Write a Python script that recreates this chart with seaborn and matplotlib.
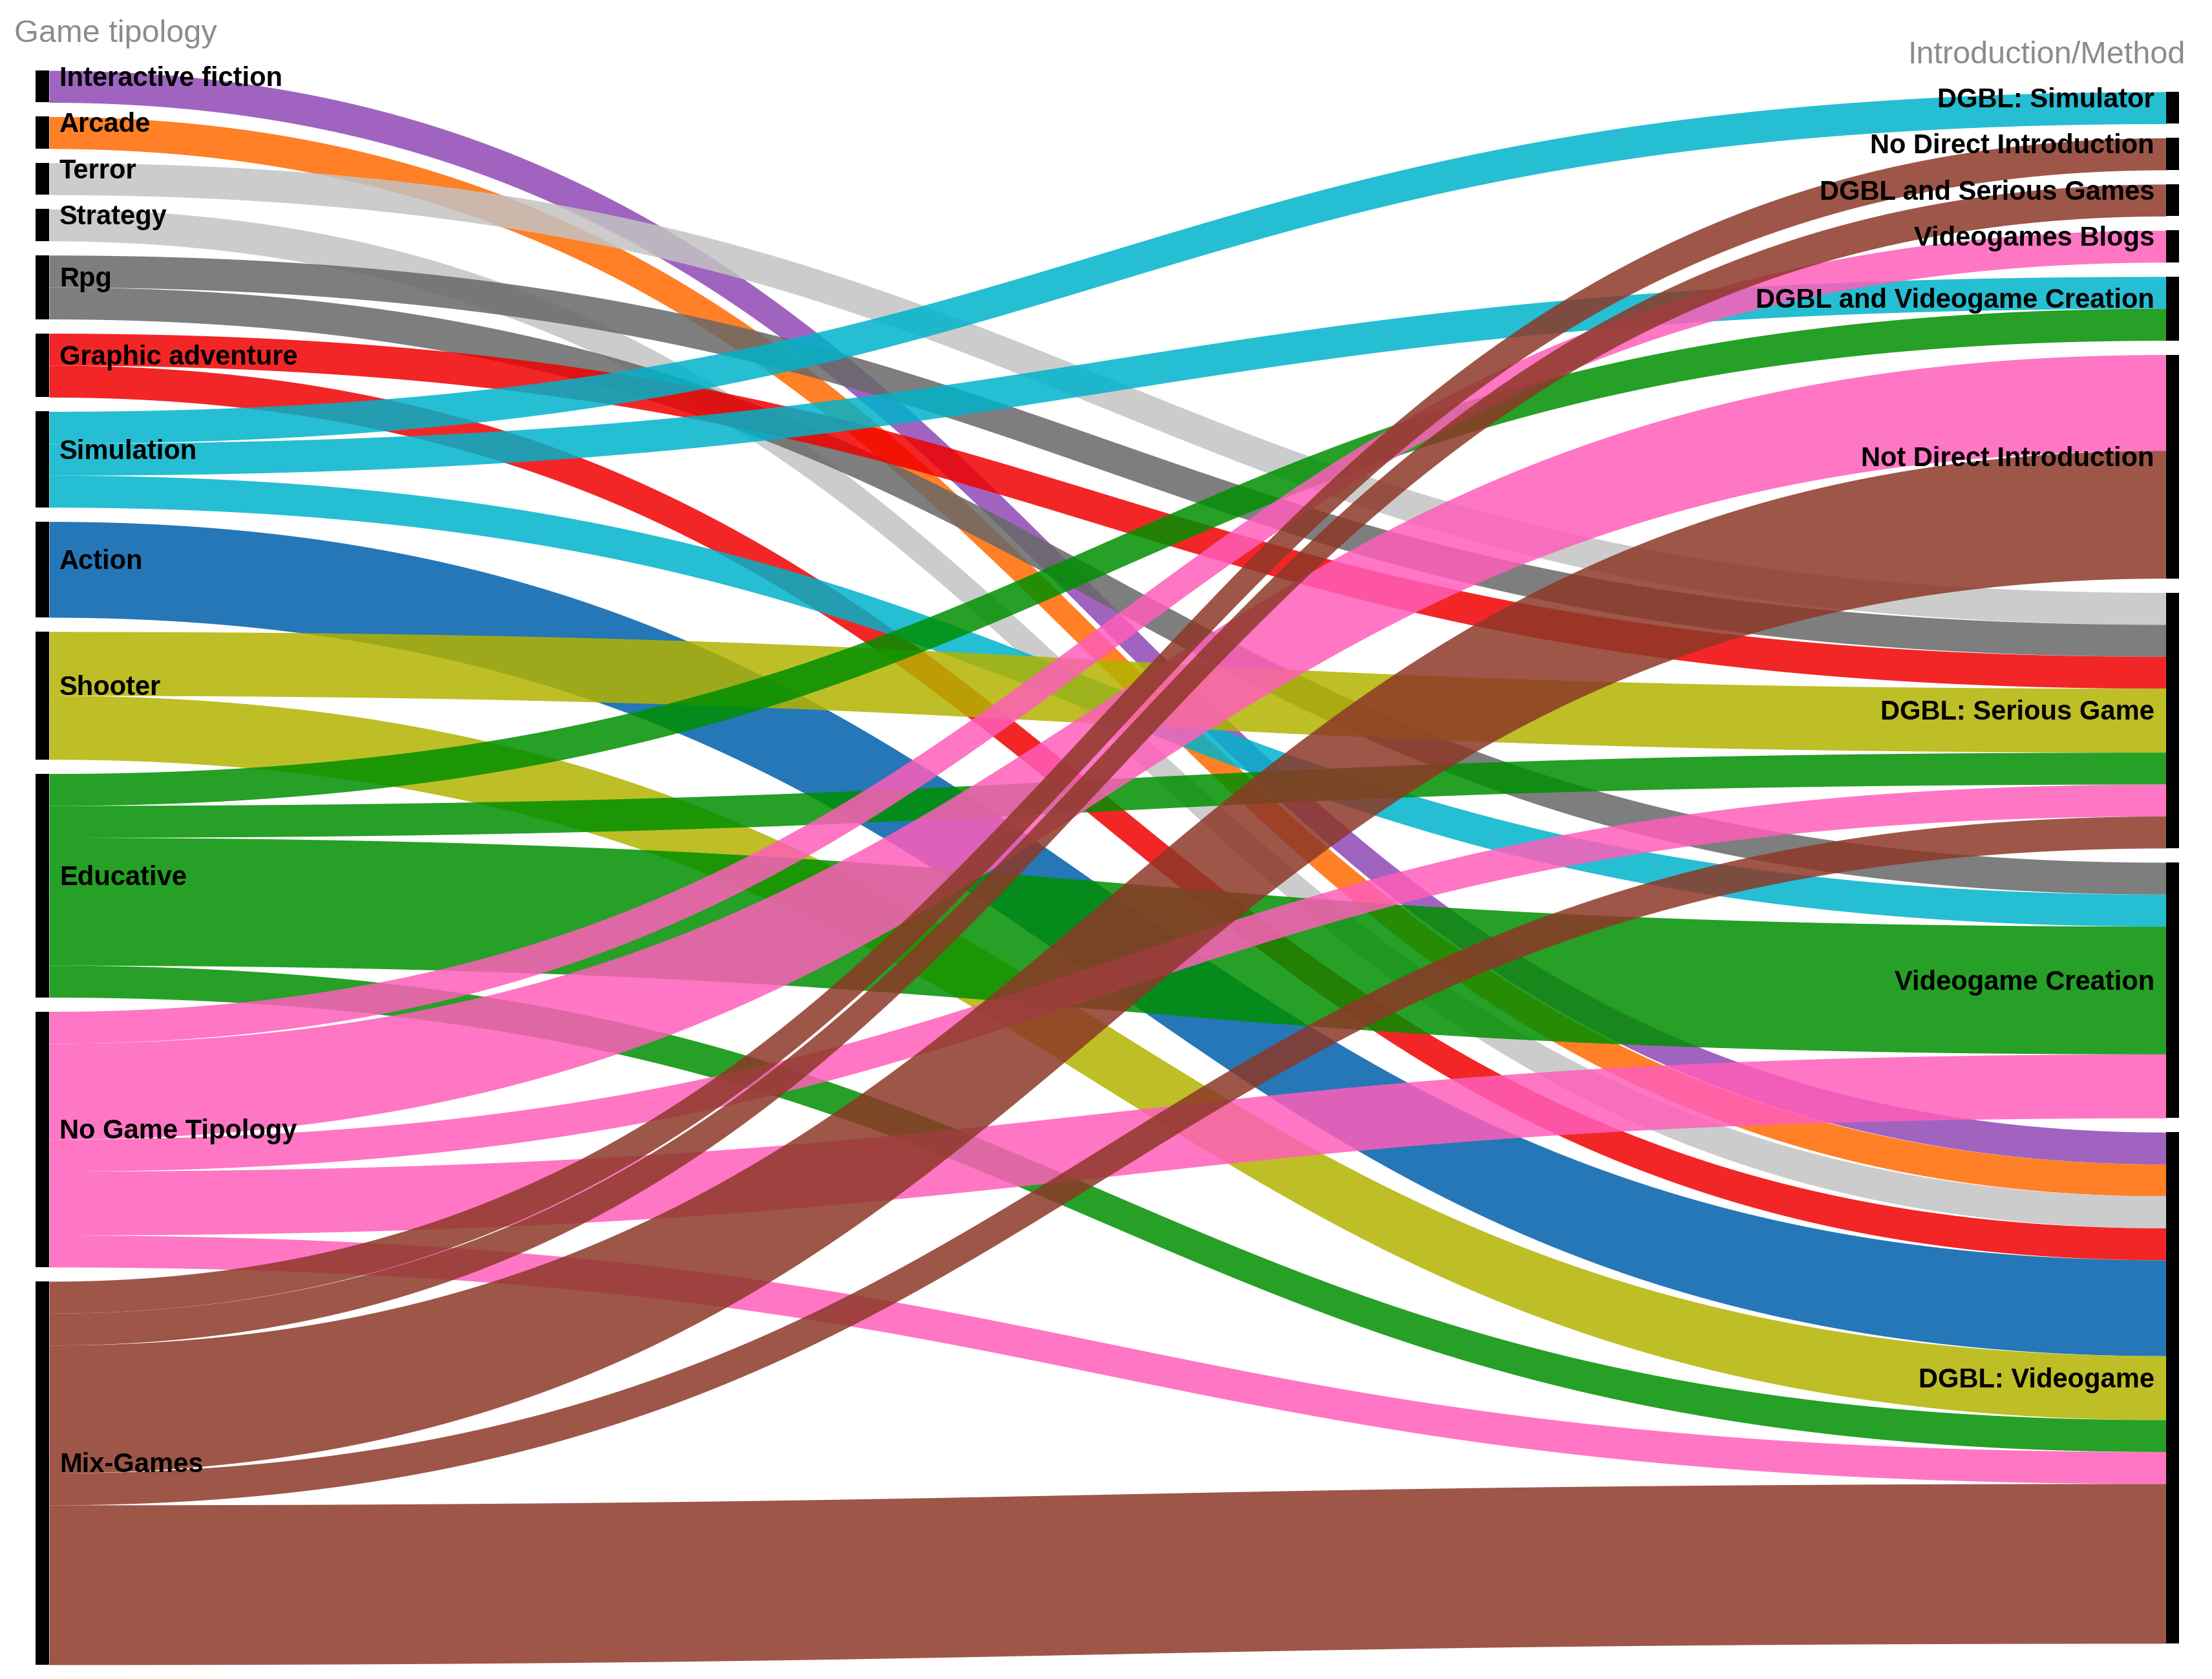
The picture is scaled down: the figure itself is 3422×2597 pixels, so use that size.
import numpy as np
import matplotlib.pyplot as plt
import seaborn as sns
from matplotlib.colors import to_rgb

sns.set_style("white")
plt.rcParams['font.family'] = ['Liberation Sans', 'DejaVu Sans']

# Nodes (left = game tipology, right = introduction / method)
left_nodes = ['Interactive fiction', 'Arcade', 'Terror', 'Strategy', 'Rpg',
              'Graphic adventure', 'Simulation', 'Action', 'Shooter',
              'Educative', 'No Game Tipology', 'Mix-Games']
right_nodes = ['DGBL: Simulator', 'No Direct Introduction', 'DGBL and Serious Games',
               'Videogames Blogs', 'DGBL and Videogame Creation',
               'Not Direct Introduction', 'DGBL: Serious Game',
               'Videogame Creation', 'DGBL: Videogame']
left_colors = ['#a064c0', '#ff8000', '#cccccc', '#cccccc', '#7f7f7f', '#f21e24',
               '#00bed2', '#0077b8', '#bebe00', '#00a014', '#ff76c4', '#9e5648']

# Links
flow_source = ['Interactive fiction', 'Arcade', 'Terror', 'Strategy',
               'Rpg', 'Rpg', 'Graphic adventure', 'Graphic adventure',
               'Simulation', 'Simulation', 'Simulation', 'Action',
               'Shooter', 'Shooter',
               'Educative', 'Educative', 'Educative', 'Educative',
               'No Game Tipology', 'No Game Tipology', 'No Game Tipology',
               'No Game Tipology', 'No Game Tipology',
               'Mix-Games', 'Mix-Games', 'Mix-Games', 'Mix-Games', 'Mix-Games']
flow_target = ['DGBL: Videogame', 'DGBL: Videogame', 'DGBL: Serious Game', 'DGBL: Videogame',
               'DGBL: Serious Game', 'Videogame Creation',
               'DGBL: Serious Game', 'DGBL: Videogame',
               'DGBL: Simulator', 'DGBL and Videogame Creation', 'Videogame Creation',
               'DGBL: Videogame',
               'DGBL: Serious Game', 'DGBL: Videogame',
               'DGBL and Videogame Creation', 'DGBL: Serious Game',
               'Videogame Creation', 'DGBL: Videogame',
               'Videogames Blogs', 'Not Direct Introduction', 'DGBL: Serious Game',
               'Videogame Creation', 'DGBL: Videogame',
               'No Direct Introduction', 'DGBL and Serious Games',
               'Not Direct Introduction', 'DGBL: Serious Game', 'DGBL: Videogame']
flow_value = [1, 1, 1, 1,
              1, 1, 1, 1,
              1, 1, 1, 3,
              2, 2,
              1, 1, 4, 1,
              1, 3, 1, 2, 1,
              1, 1, 4, 1, 5]

# Layout (pixels of the 3423x2597 canvas)
W, H = 3423, 2597
unit = 49.42
gap = 22
center_y = 1342
left_bar = (55, 76)
right_bar = (3351, 3371)
alpha = 0.85


def stack_nodes(nodes, flows_by_node):
    sizes = [sum(flows_by_node[n]) * unit for n in nodes]
    total = sum(sizes) + gap * (len(nodes) - 1)
    tops, y = {}, center_y - total / 2
    for n, s in zip(nodes, sizes):
        tops[n] = y
        y += s + gap
    return tops, dict(zip(nodes, sizes))


def solid_look(c):
    # darken so that the translucent ribbon looks like the plain colour on white
    rgb = np.array(to_rgb(c))
    return tuple(np.clip((rgb - (1 - alpha)) / alpha, 0, 1))


out_vals = {n: [v for s, v in zip(flow_source, flow_value) if s == n] for n in left_nodes}
in_vals = {n: [v for t, v in zip(flow_target, flow_value) if t == n] for n in right_nodes}
left_top, left_size = stack_nodes(left_nodes, out_vals)
right_top, right_size = stack_nodes(right_nodes, in_vals)

# link offsets: at source sorted by target order, at target sorted by source order
idx = list(range(len(flow_value)))
src_y0 = {}
for n in left_nodes:
    y = left_top[n]
    for i in sorted([i for i in idx if flow_source[i] == n],
                    key=lambda i: right_nodes.index(flow_target[i])):
        src_y0[i] = y
        y += flow_value[i] * unit
tgt_y0 = {}
for n in right_nodes:
    y = right_top[n]
    for i in sorted([i for i in idx if flow_target[i] == n],
                    key=lambda i: left_nodes.index(flow_source[i])):
        tgt_y0[i] = y
        y += flow_value[i] * unit

fig = plt.figure(figsize=(W / 100, H / 100), dpi=100)
ax = fig.add_axes([0, 0, 1, 1])
ax.set_xlim(0, W)
ax.set_ylim(H, 0)
ax.axis('off')

# flows as cubic bezier ribbons
t = np.linspace(0, 1, 300)
x0, x1 = left_bar[1], right_bar[0]
xs = x0 + (x1 - x0) * (1.5 * t * (1 - t) + t ** 3)
s = 3 * t ** 2 - 2 * t ** 3
for i in idx:
    col = solid_look(left_colors[left_nodes.index(flow_source[i])])
    ytop = src_y0[i] + (tgt_y0[i] - src_y0[i]) * s
    ax.fill_between(xs, ytop, ytop + flow_value[i] * unit, color=col,
                    alpha=alpha, linewidth=0, zorder=2)

# node bars
ax.bar([left_bar[0]] * len(left_nodes), [left_size[n] for n in left_nodes],
       bottom=[left_top[n] for n in left_nodes], width=left_bar[1] - left_bar[0],
       align='edge', color='black', linewidth=0, zorder=3)
ax.bar([right_bar[0]] * len(right_nodes), [right_size[n] for n in right_nodes],
       bottom=[right_top[n] for n in right_nodes], width=right_bar[1] - right_bar[0],
       align='edge', color='black', linewidth=0, zorder=3)

# labels
for n in left_nodes:
    ax.text(92, left_top[n] + left_size[n] / 2 - 12, n, ha='left', va='center',
            fontsize=30, fontweight='bold', color='black', zorder=4)
for n in right_nodes:
    ax.text(3333, right_top[n] + right_size[n] / 2 - 12, n, ha='right', va='center',
            fontsize=30, fontweight='bold', color='black', zorder=4)

ax.text(22, left_top[left_nodes[0]] - 57, 'Game tipology', ha='left', va='center',
        fontsize=35, color='#8c8c8c')
ax.text(3381, right_top[right_nodes[0]] - 57, 'Introduction/Method', ha='right',
        va='center', fontsize=35, color='#8c8c8c')

fig.savefig('out.png', dpi=100, facecolor='white')
